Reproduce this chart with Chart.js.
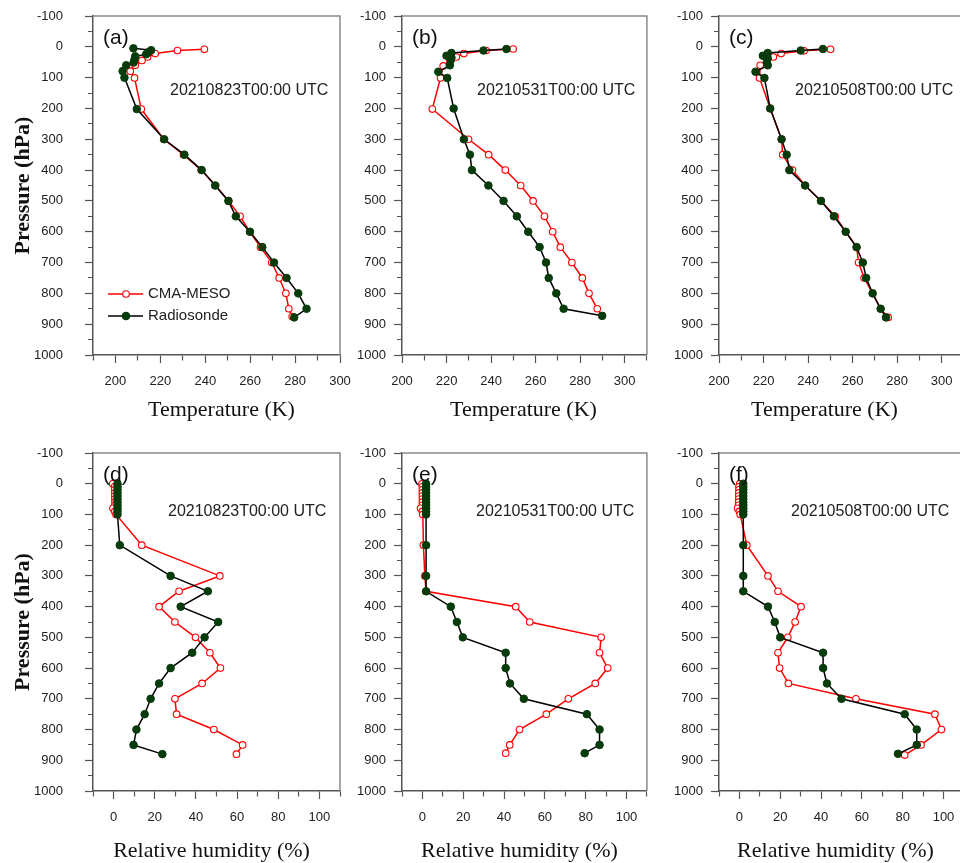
<!DOCTYPE html>
<html>
<head>
<meta charset="utf-8">
<script src="https://cdn.jsdelivr.net/npm/chart.js@4.4.0/dist/chart.umd.min.js"></script>
<style>
  html, body { margin: 0; padding: 0; background: #fff; overflow: hidden; width: 960px; height: 863px; }
  canvas { position: absolute; }
</style>
</head>
<body>
<canvas id="pa"></canvas><canvas id="pb"></canvas><canvas id="pc"></canvas>
<canvas id="pd"></canvas><canvas id="pe"></canvas><canvas id="pf"></canvas>
<script>
// 温度廓线 (K) / 压力 (hPa)
// (a) 20210823
const aMesoP  = [8, 12, 22, 33, 44, 60, 79, 101, 202, 300, 350, 400, 450, 500, 550, 600, 650, 700, 750, 800, 850, 875];
const aMesoT  = [239.6, 227.6, 217.7, 214.3, 211.8, 208.8, 206.6, 208.5, 211.5, 221.5, 230.3, 238.2, 244.6, 250.4, 255.5, 259.8, 264.6, 269.6, 272.9, 275.9, 277.2, 278.7];
const aSondeP = [5, 11, 17, 24, 31, 41, 51, 60, 79, 100, 202, 300, 350, 400, 450, 500, 550, 600, 650, 700, 750, 800, 850, 878];
const aSondeT = [208.0, 215.9, 214.7, 213.7, 208.8, 208.5, 208.1, 204.8, 203.2, 204.0, 209.5, 221.7, 230.7, 238.4, 244.4, 250.3, 253.6, 259.9, 265.4, 270.6, 276.2, 281.4, 285.1, 279.6];
// (b) 20210531
const bMesoP  = [7, 12, 22, 33, 49, 62, 101, 202, 300, 350, 400, 450, 500, 550, 600, 650, 700, 750, 800, 850, 873];
const bMesoT  = [249.9, 237.8, 227.8, 224.4, 221.5, 218.5, 217.3, 213.6, 229.9, 238.9, 246.4, 253.3, 258.9, 264.0, 267.7, 271.1, 276.3, 281.0, 284.0, 287.7, 289.9];
const bSondeP = [7, 12, 20, 29, 35, 43, 60, 81, 101, 200, 300, 350, 400, 450, 500, 550, 600, 650, 700, 750, 800, 850, 873];
const bSondeT = [246.9, 236.6, 222.2, 220.0, 222.2, 221.9, 221.5, 216.3, 220.3, 223.2, 227.8, 230.5, 231.4, 238.8, 245.6, 251.6, 256.7, 261.8, 264.7, 265.9, 269.3, 272.6, 289.9];
// (c) 20210508
const cMesoP  = [8, 13, 22, 33, 60, 101, 200, 300, 350, 400, 450, 500, 550, 600, 650, 700, 750, 800, 850, 878];
const cMesoT  = [250.1, 238.2, 227.9, 224.4, 218.5, 218.2, 223.0, 228.1, 228.6, 233.0, 238.7, 245.8, 252.2, 256.9, 261.8, 262.7, 265.2, 269.0, 272.6, 276.0];
const cSondeP = [7, 12, 20, 29, 37, 49, 60, 81, 101, 200, 300, 350, 400, 450, 500, 550, 600, 650, 700, 750, 800, 850, 878];
const cSondeT = [246.7, 236.7, 221.9, 219.7, 221.9, 221.5, 221.9, 216.4, 220.4, 223.0, 228.1, 230.4, 231.6, 238.7, 245.8, 251.6, 256.9, 261.8, 264.6, 266.1, 269.0, 272.6, 275.0];

// 相对湿度廓线 (%)
const dMesoP   = [0, 10, 20, 30, 40, 50, 60, 70, 80, 90, 100, 200, 300, 350, 400, 450, 500, 550, 600, 650, 700, 750, 800, 850, 880];
const dMesoRH  = [-0.4, 0.5, 0.5, 0.6, 0.6, 0.6, 0.7, 0.7, -0.3, 0.6, 1.2, 13.7, 51.6, 31.8, 22.1, 29.8, 39.8, 46.8, 51.9, 43.0, 29.8, 30.6, 48.7, 62.7, 59.7];
const dSondeP  = [0, 10, 20, 30, 40, 50, 60, 70, 80, 90, 100, 200, 300, 350, 400, 450, 500, 550, 600, 650, 700, 750, 800, 850, 880];
const dSondeRH = [1.9, 1.9, 1.9, 1.9, 1.9, 1.9, 1.9, 1.9, 1.9, 1.9, 1.9, 3.0, 27.7, 45.8, 32.6, 50.8, 44.2, 38.2, 27.7, 22.1, 18.0, 15.1, 11.1, 9.7, 23.7];

const eMesoP   = [0, 10, 20, 30, 40, 50, 60, 70, 80, 90, 100, 200, 300, 350, 400, 450, 500, 550, 600, 650, 700, 750, 800, 850, 877];
const eMesoRH  = [-0.2, 0, 0, 0, 0, 0, 0, 0, -0.9, 0, 0.2, 0.5, 1.2, 1.8, 45.7, 52.6, 87.6, 86.8, 90.8, 84.7, 71.5, 60.7, 47.6, 42.8, 40.8];
const eSondeP  = [0, 10, 20, 30, 40, 50, 60, 70, 80, 90, 100, 200, 300, 350, 400, 450, 500, 550, 600, 650, 700, 750, 800, 850, 877];
const eSondeRH = [1.8, 1.8, 1.8, 1.8, 1.8, 1.8, 1.8, 1.8, 1.8, 1.8, 1.8, 1.8, 1.8, 1.8, 13.9, 16.9, 19.8, 40.8, 40.8, 42.9, 49.7, 80.6, 86.8, 86.8, 79.5];

const fMesoP   = [0, 10, 20, 30, 40, 50, 60, 70, 80, 90, 100, 200, 300, 350, 400, 450, 500, 550, 600, 650, 700, 750, 800, 850, 883];
const fMesoRH  = [0.2, -0.2, -0.2, -0.3, -0.3, -0.3, -0.4, -0.4, -0.9, 0, 0.4, 3.6, 14.0, 18.9, 30.2, 27.3, 23.7, 18.9, 19.7, 24.0, 57.1, 95.8, 99.0, 89.0, 81.0];
const fSondeP  = [0, 10, 20, 30, 40, 50, 60, 70, 80, 90, 100, 200, 300, 350, 400, 450, 500, 550, 600, 650, 700, 750, 800, 850, 879];
const fSondeRH = [1.9, 1.9, 1.9, 1.9, 1.9, 1.9, 1.9, 1.9, 1.9, 1.9, 1.9, 1.9, 1.9, 1.9, 14.0, 17.3, 20.0, 41.0, 41.0, 42.9, 50.0, 81.0, 86.9, 86.9, 77.7];

const SANS = 'Liberation Sans, Arial, sans-serif';
const SERIF = 'Liberation Serif, Times New Roman, serif';
const RED = '#ff0000', DOT = '#073b0c';

Chart.defaults.font.family = SANS;

const COLS = [{ left: 0, width: 352, right: 12, yw: 93, ypad: 22 }, { left: 346, width: 306, right: 3, yw: 56, ypad: 8 }, { left: 663, width: 306, right: 3, yw: 56, ypad: 8 }];
const ROWS = [{ top: 0, height: 432, pt: 16, xh: 77, dateY: 75, titleY: 55 }, { top: 436, height: 427, pt: 17, xh: 72, dateY: 59, titleY: 60 }];

const panels = [
  { id: 'pa', col: 0, row: 0, tag: '(a)', date: '20210823T00:00 UTC', dx: 77, x: [190, 300], title: 'Temperature (K)', tdx: 5, meso: [aMesoT, aMesoP], sonde: [aSondeT, aSondeP], legend: true },
  { id: 'pb', col: 1, row: 0, tag: '(b)', date: '20210531T00:00 UTC', dx: 75, x: [200, 310], title: 'Temperature (K)', tdx: -1, meso: [bMesoT, bMesoP], sonde: [bSondeT, bSondeP] },
  { id: 'pc', col: 2, row: 0, tag: '(c)', date: '20210508T00:00 UTC', dx: 76, x: [200, 310], title: 'Temperature (K)', tdx: -17, meso: [cMesoT, cMesoP], sonde: [cSondeT, cSondeP] },
  { id: 'pd', col: 0, row: 1, tag: '(d)', date: '20210823T00:00 UTC', dx: 75, x: [-10, 110], title: 'Relative humidity (%)', tdx: -5, meso: [dMesoRH, dMesoP], sonde: [dSondeRH, dSondeP] },
  { id: 'pe', col: 1, row: 1, tag: '(e)', date: '20210531T00:00 UTC', dx: 74, x: [-10, 110], title: 'Relative humidity (%)', tdx: -5, meso: [eMesoRH, eMesoP], sonde: [eSondeRH, eSondeP] },
  { id: 'pf', col: 2, row: 1, tag: '(f)', date: '20210508T00:00 UTC', dx: 72, x: [-10, 110], title: 'Relative humidity (%)', tdx: -6, meso: [fMesoRH, fMesoP], sonde: [fSondeRH, fSondeP] },
];

const pts = (xs, ps) => xs.map((v, i) => ({ x: v, y: ps[i] }));

// 坐标轴留白由 layout.padding 决定，去掉刻度标签带来的额外内边距
function noPad(s) { s.paddingTop = s.paddingBottom = s.paddingLeft = s.paddingRight = 0; }

// 上边框和右边框
const frame = {
  id: 'frame',
  afterDraw(chart) {
    const { ctx, chartArea: a } = chart;
    ctx.save();
    ctx.strokeStyle = '#8a8a8a'; ctx.lineWidth = 1.5;
    ctx.beginPath(); ctx.moveTo(a.left, a.top); ctx.lineTo(a.right, a.top); ctx.lineTo(a.right, a.bottom); ctx.stroke();
    ctx.restore();
  }
};

// 面板编号、时间、横轴标题和图例
const notes = {
  id: 'notes',
  afterDraw(chart, args, o) {
    const { ctx, chartArea: a } = chart;
    ctx.save();
    ctx.fillStyle = '#111'; ctx.textBaseline = 'middle'; ctx.textAlign = 'left';
    ctx.font = '21px ' + SANS;
    ctx.fillText(o.tag, a.left + 10, a.top + 22);
    ctx.font = '16px ' + SANS;
    ctx.fillStyle = '#222';
    ctx.fillText(o.date, a.left + o.dx, a.top + o.dateY);
    ctx.textAlign = 'center';
    ctx.fillStyle = '#111';
    ctx.font = '22px ' + SERIF;
    ctx.fillText(o.title, (a.left + a.right) / 2 + o.tdx, a.bottom + o.titleY);
    if (o.legend) {
      const rows = [
        { y: a.top + 278, line: RED, fill: '#fff', stroke: RED, r: 3.3, text: 'CMA-MESO' },
        { y: a.top + 300, line: '#000', fill: DOT, stroke: DOT, r: 3.8, text: 'Radiosonde' },
      ];
      ctx.textAlign = 'left';
      ctx.font = '15px ' + SANS;
      rows.forEach(r => {
        ctx.strokeStyle = r.line; ctx.lineWidth = 1.5;
        ctx.beginPath(); ctx.moveTo(a.left + 15, r.y); ctx.lineTo(a.left + 50, r.y); ctx.stroke();
        ctx.beginPath(); ctx.arc(a.left + 33, r.y, r.r, 0, Math.PI * 2);
        ctx.fillStyle = r.fill; ctx.fill();
        ctx.strokeStyle = r.stroke; ctx.lineWidth = 1.1; ctx.stroke();
        ctx.fillStyle = '#222';
        ctx.fillText(r.text, a.left + 55, r.y);
      });
    }
    ctx.restore();
  }
};

panels.forEach(p => {
  const c = COLS[p.col], r = ROWS[p.row];
  const cv = document.getElementById(p.id);
  cv.width = c.width; cv.height = r.height;
  cv.style.left = c.left + 'px'; cv.style.top = r.top + 'px';
  const tickFont = { family: SANS, size: 13 };
  new Chart(cv, {
    type: 'scatter',
    data: {
      datasets: [
        { label: 'CMA-MESO', data: pts(p.meso[0], p.meso[1]), showLine: true, order: 1,
          borderColor: RED, borderWidth: 1.5, pointBackgroundColor: '#fff', pointBorderColor: RED, pointBorderWidth: 1.1, pointRadius: 3.3 },
        { label: 'Radiosonde', data: pts(p.sonde[0], p.sonde[1]), showLine: true, order: 0,
          borderColor: '#000', borderWidth: 1.5, pointBackgroundColor: DOT, pointBorderColor: DOT, pointBorderWidth: 1, pointRadius: 3.8 },
      ]
    },
    options: {
      responsive: false, animation: false, events: [],
      layout: { padding: { top: r.pt, right: c.right, left: 0, bottom: 0 } },
      plugins: { legend: { display: false }, tooltip: { enabled: false },
        notes: { tag: p.tag, date: p.date, dx: p.dx, dateY: r.dateY, title: p.title, tdx: p.tdx, titleY: r.titleY, legend: !!p.legend } },
      scales: {
        x: {
          type: 'linear', min: p.x[0], max: p.x[1],
          afterFit: s => { s.height = r.xh; noPad(s); },
          ticks: { stepSize: 10, autoSkip: false, maxRotation: 0, padding: 11, color: '#222', font: tickFont,
            callback: v => Math.round(v) % 20 === 0 ? String(Math.round(v)) : '' },
          grid: { drawOnChartArea: false, tickLength: 8, tickColor: '#555', tickWidth: 1.2,
            tickBorderDash: ctx => (ctx.tick && Math.round(ctx.tick.value) % 20 !== 0) ? [5, 30] : [] },
          border: { color: '#555', width: 1.5 },
          title: { display: false }
        },
        y: {
          type: 'linear', reverse: true, min: -100, max: 1000,
          afterFit: s => { s.width = c.yw; noPad(s); },
          ticks: { stepSize: 50, autoSkip: false, padding: c.ypad, color: '#222', font: tickFont,
            callback: v => Math.round(v) % 100 === 0 ? String(Math.round(v)) : '' },
          grid: { drawOnChartArea: false, tickLength: 8, tickColor: '#555', tickWidth: 1.2,
            tickBorderDash: ctx => (ctx.tick && Math.round(ctx.tick.value) % 100 !== 0) ? [0, 3, 5, 30] : [] },
          border: { color: '#555', width: 1.5 },
          title: { display: p.col === 0, text: 'Pressure (hPa)', color: '#111', font: { family: SERIF, size: 22, weight: 'bold' }, padding: { top: 10, bottom: 0 } }
        }
      }
    },
    plugins: [frame, notes]
  });
});
</script>
</body>
</html>
